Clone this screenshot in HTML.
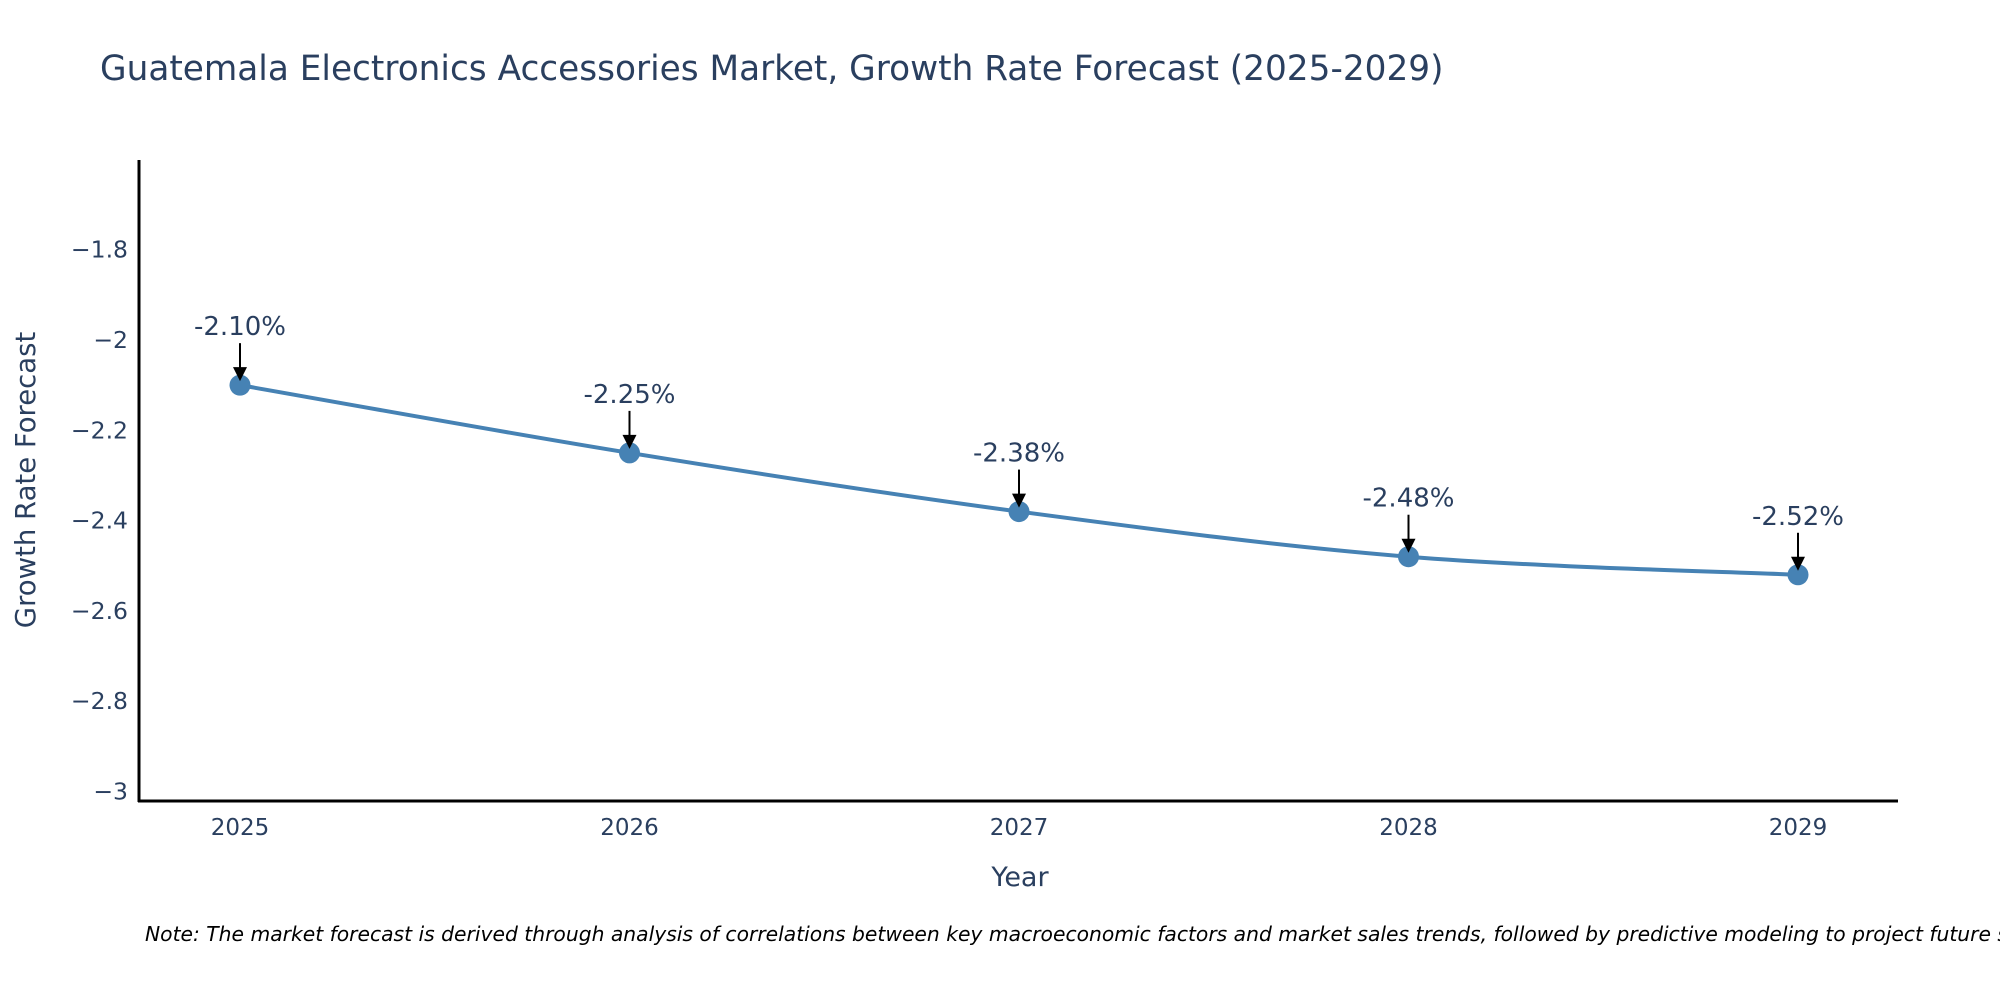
<!DOCTYPE html>
<html><head><meta charset="utf-8"><style>
html,body{margin:0;padding:0;background:#fff;overflow:hidden;}
svg{display:block;font-family:"DejaVu Sans","Liberation Sans",sans-serif;}
</style></head><body>
<svg id="chart" width="2000" height="1000" viewBox="0 0 2000 1000">
<text x="100" y="80" font-size="34.3" fill="#2a3f5f">Guatemala Electronics Accessories Market, Growth Rate Forecast (2025-2029)</text>
<g id="yticks"></g>
<g id="xticks"></g>
<line x1="139" y1="160" x2="139" y2="802" stroke="#000" stroke-width="3"/>
<line x1="138" y1="801" x2="1898" y2="801" stroke="#000" stroke-width="3"/>
<path id="line" fill="none" stroke="#4682b4" stroke-width="4"/>
<g id="points"></g>
<g id="annots"></g>
<text x="1020" y="886" font-size="27" fill="#2a3f5f" text-anchor="middle">Year</text>
<text transform="translate(35,480) rotate(-90)" font-size="27.5" fill="#2a3f5f" text-anchor="middle">Growth Rate Forecast</text>
<text x="145" y="941" font-size="20.3" font-style="italic" fill="#000">Note: The market forecast is derived through analysis of correlations between key macroeconomic factors and market sales trends, followed by predictive modeling to project future sales.</text>
</svg>
<script>
const years=[2025,2026,2027,2028,2029];
const values=[-2.10,-2.25,-2.38,-2.48,-2.52];
const labels=["-2.10%","-2.25%","-2.38%","-2.48%","-2.52%"];
const yTickValues=[-1.8,-2,-2.2,-2.4,-2.6,-2.8,-3];
const yTickLabels=["\u22121.8","\u22122","\u22122.2","\u22122.4","\u22122.6","\u22122.8","\u22123"];
const NS="http://www.w3.org/2000/svg";
function xs(y){return 240+(y-2025)*389.5;}
function ys(v){return 340+(-2-v)*451.5;}
function mk(t,a,p){const e=document.createElementNS(NS,t);for(const k in a)e.setAttribute(k,a[k]);p.appendChild(e);return e;}
const yt=document.getElementById('yticks');
yTickValues.forEach((v,i)=>{const t=mk('text',{x:128,y:ys(v)+8,'font-size':23.5,fill:'#2a3f5f','text-anchor':'end'},yt);


t.textContent=yTickLabels[i];});
const xt=document.getElementById('xticks');
years.forEach(y=>{const t=mk('text',{x:xs(y),y:835,'font-size':23,fill:'#2a3f5f','text-anchor':'middle'},xt);


t.textContent=y;});
const P=years.map((y,i)=>[xs(y),ys(values[i])]);
let d='M'+P[0][0]+','+P[0][1];
for(let i=0;i<P.length-1;i++){const p0=P[i-1]||P[i],p1=P[i],p2=P[i+1],p3=P[i+2]||P[i+1];const k=0.17;
d+=` C${p1[0]+(p2[0]-p0[0])*k},${p1[1]+(p2[1]-p0[1])*k} ${p2[0]-(p3[0]-p1[0])*k},${p2[1]-(p3[1]-p1[1])*k} ${p2[0]},${p2[1]}`;}
document.getElementById('line').setAttribute('d',d);
const pg=document.getElementById('points'),ag=document.getElementById('annots');
P.forEach((p,i)=>{const c=mk('circle',{cx:p[0],cy:p[1],r:10.5,fill:'#4682b4'},pg);


const l=mk('line',{x1:p[0],y1:p[1]-42,x2:p[0],y2:p[1]-16,stroke:'#000','stroke-width':2},ag);


const h=mk('path',{d:`M${p[0]-7},${p[1]-18} L${p[0]+7},${p[1]-18} L${p[0]},${p[1]-4} Z`,fill:'#000'},ag);


const t=mk('text',{x:p[0],y:p[1]-50,'font-size':26,fill:'#2a3f5f','text-anchor':'middle'},ag);


t.textContent=labels[i];});
</script>
</body></html>
